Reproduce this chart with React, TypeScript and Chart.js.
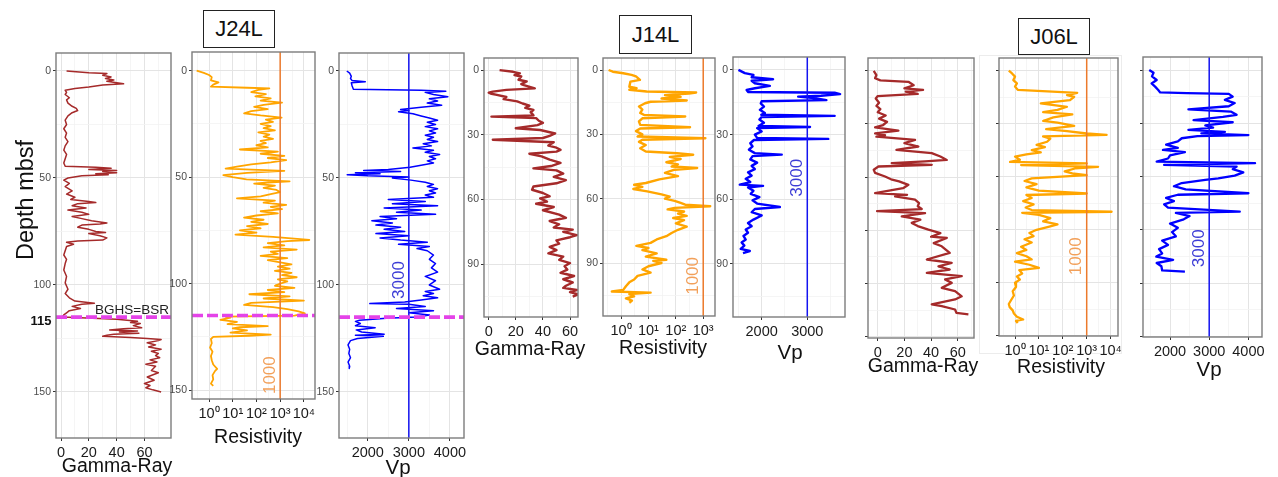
import React, { useEffect, useRef } from "react";
import { Chart, registerables } from "chart.js";
Chart.register(...registerables);

type Pair = [number, number]; // [depth mbsf, value]

// ---------------- J24L ----------------
const J24L_GR: Pair[] = [
  [0,4],[0.8,20],[1.2,33],[2,30],[2.8,36],[3.5,32],[4.2,38],[4.8,33],[5.5,40],[6,45],[6.5,30],[7.5,20],[8.2,10],[9,3],
  [10,4],[11,3],[12.5,6],[13.5,4],[15,5],[16.5,8],[17.5,11],[18.5,12],[19.5,8],[21,5],[23,3],[25,4],[27,2],[29,4],
  [31,3],[33,5],[35,3],[37,2],[39,4],[41,3],[43,2],[44.5,3],[45,25],[45.5,36],[46,20],[46.5,40],[47,30],[47.5,40],
  [48,25],[48.5,34],[49,15],[50,5],[51,2],[52.5,6],[54,3],[56,8],[57.5,4],[59,10],[60,7],[61,20],[61.5,25],[62,12],
  [63,8],[64,18],[65,5],[66,15],[67,20],[68,8],[69,15],[70,22],[71,33],[71.5,28],[72,15],[73,12],[74,20],[75,25],
  [75.5,32],[76,20],[77,28],[78,33],[79,30],[79.5,12],[80,4],[81,9],[82,4],[84,3],[86,2],[88,4],[90,3],[93,2],[96,4],
  [99,3],[102,5],[104,3],[106,6],[107.5,10],[108.5,24],[109,15],[110,8],[111,14],[112,6],[113,4],[114,2],[115,1],
  [116,40],[117,55],[117.5,50],[118,57],[119,52],[120,58],[120.5,45],[121,35],[121.5,55],[122,42],[122.5,56],[123,38],
  [123.5,33],[124,30],[124.5,50],[125,62],[125.5,72],[126,70],[127,62],[128,68],[129,63],[130,72],[131,65],[132,70],
  [133,68],[134,71],[135,64],[136,69],[137,61],[138,68],[140,65],[141,70],[143,62],[144.5,67],[146,60],[147,64],
  [148,61],[149,66],[150,72]
];
const J24L_RES: Pair[] = [
  [0,0.3],[1,0.6],[2,1.0],[3,1.3],[4.5,1.2],[5.5,2.5],[6.5,1.5],[7.5,1.2],[8,40],[8.3,350],[9,120],[10,60],[11,250],
  [12,90],[13,400],[14,150],[15,1200],[16,200],[17,80],[18,300],[19,60],[20,30],[21,150],[22,1150],[23,250],[24,500],
  [25,150],[26,400],[27,200],[28,600],[29,120],[30,350],[31,200],[32,500],[33,150],[34,250],[35,100],[36,300],[37,20],
  [38,800],[39,150],[40,1500],[41,300],[42,1800],[43,400],[44,60],[45,15],[46,5],[47,1500],[48,40],[49,4],[50,10],
  [51,38],[52,2500],[52.5,300],[53,80],[54,600],[55,200],[56,700],[57,1000],[58,400],[59,150],[60,15],[61,600],
  [62,200],[63,1800],[64,400],[65,1200],[66,150],[67,800],[68,100],[69,30],[70,200],[71,60],[72,300],[73,40],[74,150],
  [75,20],[76,100],[77,13],[78,500],[79.5,17000],[80,2000],[81,300],[82,1500],[83,200],[84,5000],[85,400],[86,800],
  [87,150],[88,2000],[89,300],[90,1000],[91,3000],[92,800],[93,2500],[94,600],[95,3000],[96,1200],[97,5000],[98,800],
  [99,2000],[100,1000],[101,600],[102,4000],[103,300],[104,1500],[105,50],[106,2500],[107,200],[108,10000],[109,60],
  [110,30],[111,500],[112,2000],[113,6000],[114,11000],[115,4000],[115.5,5],[116,8],[117,3],[118,15],[119,6],[120,300],
  [120.5,20],[121,10],[122,40],[123,8],[124,400],[124.5,50],[125,1.5],[126,1.2],[128,1.3],[130,1.1],[132,1.4],[134,1.2],
  [136,1.3],[138,1.5],[140,2.2],[141,1.8],[143,1.4],[145,1.5],[147,1.2],[148,1.5]
];
const J24L_VP: Pair[] = [
  [0,1490],[1,1560],[2.5,1600],[3.5,1580],[4.5,1620],[5,1940],[5.5,1600],[7,1620],[8.5,1650],[9,3300],[9.5,3900],
  [10,3400],[11,3600],[12,3950],[13,3500],[14,3700],[15,3450],[16,3800],[17,3300],[18,2800],[18.5,3000],[19,2750],
  [20,3100],[21,3300],[22,3500],[23,3700],[24,3450],[25,3650],[26,3400],[27,3700],[28,3500],[29,3650],[30,3400],
  [31,3600],[32,3450],[33,3700],[34,3350],[35,3550],[36,3100],[37,3600],[38,3400],[39,3750],[40,3500],[41,3650],
  [42,3450],[43,3600],[44,3300],[45,3030],[46,2500],[46.5,1900],[47,2800],[47.5,1700],[48,2300],[48.5,1500],[49,2000],
  [49.5,3000],[50,2600],[51,3050],[52,3400],[53,3600],[54,3450],[55,3700],[56,3500],[57,3650],[58,3400],[59,3600],
  [60,2500],[61,3400],[62,2600],[63,3700],[64,2400],[65,3300],[66,2700],[67,3650],[68,2300],[69,2700],[70,2100],
  [71,2600],[72,2200],[73,2800],[74,2400],[75,2900],[76,2200],[77,3000],[78,2300],[79,2800],[80,3450],[81,2750],
  [82,3500],[83,3200],[84,3450],[86,3600],[88,3500],[90,3650],[92,3550],[94,3700],[96,3400],[98,3650],[100,3500],
  [102,3750],[103,3400],[104,3600],[105,3350],[106,3700],[107,3300],[108,2900],[108.7,2050],[109,3000],[110,3400],
  [111,2700],[112,3600],[113,3000],[114,3500],[115,3200],[115.5,2450],[116.5,1800],[117,1700],[118,1820],[119,1700],
  [120,2180],[121,1720],[122,1850],[123,2400],[123.5,1700],[124,2380],[125,1750],[126,1580],[128,1520],[130,1560],
  [132,1540],[134,1580],[136,1520],[138,1560],[139,1550]
];

// ---------------- J14L ----------------
const J14L_GR: Pair[] = [
  [0,8],[0.8,18],[1.5,23],[2.3,19],[3,24],[4.5,22],[5.3,28],[6.5,24],[7,26],[8.5,34],[9.2,13],[10,3],[10.5,0],[11,2],
  [11.5,6],[12.5,13],[13.5,11],[14.5,21],[15.5,25],[16.5,30],[17.5,27],[18.5,33],[19.5,31],[21,33],[21.6,2],[22.3,35],
  [23.5,37],[24.5,40],[25.5,36],[27,20],[27.8,38],[29.4,49],[30.5,45],[31.5,40],[32.3,3],[33,30],[33.5,48],[35,44],
  [36,50],[37,53],[37.8,50],[38.8,30],[40,39],[41.5,45],[43,53],[44.5,46],[45.6,33],[46.5,50],[48,55],[49.5,48],
  [51,57],[52.5,50],[54,33],[55.5,32],[57,40],[58.5,45],[59.5,38],[61,43],[62,35],[63.5,48],[65,40],[67,52],[68.5,57],
  [70,45],[71.5,52],[73,48],[74,62],[75,55],[76.5,65],[77.5,60],[79,50],[80.5,52],[82,45],[83.5,50],[85,44],[86.5,55],
  [88,52],[89.5,60],[91,56],[92.5,58],[94,53],[95.5,63],[97,55],[98.5,62],[100,57],[101,55],[102,65],[103,60],
  [104,66],[105,62]
];
const J14L_RES: Pair[] = [
  [0,0.35],[0.8,0.5],[1.5,1.2],[2.3,2.4],[3,3.5],[4.6,4.9],[5.4,2.2],[7.8,2.0],[8.5,3.7],[9.2,2.0],[10,8.6],[10.5,550],
  [11,300],[11.7,40],[12.5,150],[13.3,30],[14.2,250],[14.8,12],[15.5,7.5],[17,4.5],[18.5,6],[20,5],[21,7],[21.7,220],
  [22.5,6],[24,4.5],[25.6,5],[26.7,330],[27.3,5],[28.5,3.5],[30,6],[31,4],[31.8,1200],[32.5,6],[33.5,4.5],[35,8],
  [36.5,5],[38,8],[38.8,110],[39.5,430],[40.5,60],[41.5,150],[43,45],[44,120],[45,70],[45.7,600],[46.5,90],[48,40],
  [49.5,120],[51,25],[52.7,8],[53.5,3],[54.5,6],[55.5,2.8],[56.6,9],[58,30],[59,60],[60,40],[61,90],[62,150],
  [62.8,220],[63.5,1800],[64.3,90],[65,50],[66,200],[67,120],[68,250],[69,80],[70,200],[71.5,100],[73,250],[74.5,120],
  [76,70],[77.5,45],[79,20],[80.6,12],[82,3.6],[83,10],[84,6],[85.5,20],[87,8],[88.5,45],[89,15],[90,30],[91.5,10],
  [93,6],[94.5,12],[96,4],[97.7,3],[99,2],[100.8,1.5],[102.5,1.2],[103.3,0.46],[103.8,12],[104.5,2],[105.5,3],
  [106.5,1.5],[107.5,2.5],[108.5,2]
];
const J14L_VP: Pair[] = [
  [0,1490],[1.5,1630],[2.3,1820],[3.4,1780],[4.3,2250],[5,1780],[6.2,1850],[7.4,2180],[8.5,1850],[9.3,1670],
  [10.2,1700],[10.6,3600],[11.2,3720],[12,3300],[12.4,2800],[13.2,3200],[14,3420],[14.5,2000],[15.5,1980],[17,2050],
  [18.5,1960],[20,2070],[20.8,1990],[21.3,3600],[21.8,2000],[23,1950],[24.5,2050],[26,1930],[26.5,3060],[27,1900],
  [28.5,2000],[30,1850],[31.5,1900],[32,3460],[32.5,1830],[34,1750],[35.5,1800],[37,1720],[38.6,1850],[39.3,2440],
  [40,1800],[41.5,1750],[43,1900],[44.5,1780],[46,1850],[47.5,1700],[49,1780],[50.5,1650],[52,1750],[53.2,1520],
  [53.8,2030],[54.5,1700],[56,1820],[57.5,1760],[59,1950],[60.5,1800],[62,1900],[63.6,2400],[64.5,1850],[66,1780],
  [67.5,2000],[69.4,1820],[71,1700],[72.5,1780],[74,1650],[75.5,1700],[77,1600],[78.7,1650],[80,1560],[81.5,1620],
  [83,1540],[84,1740],[85,1590]
];

// ---------------- J06L ----------------
const J06L_GR: Pair[] = [
  [0,-3],[2,-1],[3.5,-2],[4.5,2],[5.2,23],[6.8,27],[8.3,20],[9,34],[9.8,21],[10.9,30],[11.9,0],[13,-1.5],[15,1],
  [16.5,-1],[18,2],[19.5,0],[21,6],[22.5,1],[24,7],[25.5,4],[26.6,-2],[28.1,15.5],[29.4,-2],[30.2,5.5],[31,-1],
  [32.5,28],[34,20],[35.6,30.5],[37.2,14],[38.7,40.5],[40.3,47],[41.9,51.8],[42.6,35.5],[43.4,10.5],[44.2,40.5],
  [45,0.5],[46.5,-3],[48,-2],[49.7,5.5],[51,10],[52,16],[53.6,23],[55.2,19],[57.5,-2],[58.3,22],[59,13],[60.6,28],
  [62.2,31],[63.7,30],[65,33],[66,-0.5],[66.9,35.5],[68.4,18],[70,32],[71.5,25.5],[73,30],[74.7,38],[76.3,47],[78,40],
  [78.6,51.8],[81,42],[82.5,48],[85.6,54],[88.7,36.8],[90.3,55.5],[91.9,45.5],[93.4,54],[95,36.8],[96.5,63],
  [98.1,50.5],[99.7,55.5],[102,48],[103.6,58],[106,63],[107.5,58],[109.8,40.5],[110.6,48],[112.2,58],[113.8,59],
  [114.5,68]
];
const J06L_RES: Pair[] = [
  [0,0.55],[1.3,0.75],[2.8,1.0],[4.4,0.85],[6,1.2],[7.5,1.0],[9,1.3],[10.4,400],[11.5,150],[12.3,300],[13.9,200],
  [15.4,12],[17,150],[18.5,60],[19.5,15],[20.6,250],[22,40],[23.7,15],[24.5,60],[26,300],[27.5,20],[28.5,150],
  [29.6,1000],[30.3,6800],[31,15],[32,30],[33.5,22],[35,8],[36,18],[37.4,5],[38.5,12],[39.5,3],[40.5,1.0],[42,1.6],
  [43,0.62],[43.7,1000],[44.5,1.8],[45.3,3000],[46,350],[47.5,120],[48.4,250],[49.2,1000],[50.8,5],[52,2.5],[53.5,8],
  [55,3],[56.5,10],[57.9,1000],[58.6,3],[60,5],[61.5,2.2],[63,6],[64.5,2.8],[65.7,5],[66.5,11000],[67,2],[68,10],
  [69.5,30],[71,15],[72.5,60],[73.6,25],[75,8],[76.5,4],[78,6],[79.5,2.5],[81,5],[83,1.8],[84.5,3],[86,1.2],[87.5,3],
  [89,5],[90,1.0],[91.5,4],[93,10],[94,1.5],[95.6,2],[97,1.2],[98.5,1.6],[100,1.0],[102,1.1],[104,0.8],[106,0.9],
  [108,0.7],[110,0.55],[111.5,0.6],[113,0.8],[114.5,0.9],[116,1.2],[117.3,2.2],[118,1.1],[119,1.3]
];
const J06L_VP: Pair[] = [
  [0,1470],[1.3,1580],[3,1540],[4.7,1660],[6.3,1530],[7.8,1620],[9.4,1700],[10.5,1750],[10.8,2430],[11.2,3500],
  [12.5,3600],[14,3400],[15.5,3650],[17,3500],[18.5,2470],[19.5,3550],[21,3700],[22,3350],[23.5,2600],[24.5,3600],
  [26,2900],[27,3100],[28.1,2470],[29,3400],[29.7,2800],[30.5,4000],[31,2700],[32,2300],[33.5,2200],[35,1900],
  [36.5,2200],[37.5,1820],[38.5,2380],[40,2000],[41.5,1950],[43,1660],[43.7,4170],[44.5,1850],[45.3,3700],
  [46.5,3600],[48,3870],[49.5,3650],[50.8,3230],[51.5,2900],[53,2300],[54.5,2100],[56,2400],[57.8,4000],[58.5,2200],
  [60,1900],[61.5,2100],[63,1850],[64.5,1950],[66.4,3780],[67,2150],[68.5,2500],[70,2350],[72,2000],[74,2200],
  [76,2050],[78,2150],[80,1800],[82,1950],[84,1720],[86,1800],[87.5,1650],[89,2080],[90.5,1660],[92,1780],[94,1800],
  [94.5,2380]
];

const BSR_DEPTH = 115;
const RES_CUTOFF = 1000;
const VP_CUTOFF = 3000;
const SITES = ["J24L", "J14L", "J06L"];
const SUP = ["⁰", "¹", "²", "³", "⁴"];

// ---------------- layout / styling ----------------
const FONT = '"Liberation Sans", Arial, Helvetica, sans-serif';
const GR_COLOR = "#A52A2A";
const RES_COLOR = "#FFA500";
const VP_COLOR = "#0000FF";
const Y_W = 30, X_H = 26, PAD_T = 3, PAD_R = 16;

interface Panel {
  frame: [number, number, number, number];
  y: [number, number];
  yMajor: number;
  yMinor: number;
  yLabels: boolean;
  x: [number, number];
  log?: boolean;
  xMajor?: number;
  xMinor?: number;
  data: Pair[];
  color: string;
  lw: number;
  ref?: { value: number; color: string; text: string; textColor: string; depth: number };
  bsr?: boolean;
}

const p10 = (e: number) => Math.pow(10, e);
const resRef = (depth: number) => ({ value: RES_CUTOFF, color: "#EC7A2C", text: String(RES_CUTOFF), textColor: "#F2A05A", depth });
const vpRef = (depth: number) => ({ value: VP_CUTOFF, color: "#1414F0", text: String(VP_CUTOFF), textColor: "#3C3CD6", depth });

const PANELS: Panel[] = [
  { frame: [56, 53, 171, 438], y: [-8.4, 171.5], yMajor: 50, yMinor: 25, yLabels: true, x: [-3.6, 79.1], xMajor: 20, xMinor: 10, data: J24L_GR, color: GR_COLOR, lw: 1.5, bsr: true },
  { frame: [192, 52, 315, 399], y: [-8.8, 154.2], yMajor: 50, yMinor: 25, yLabels: true, x: [p10(-0.72), p10(4.47)], log: true, data: J24L_RES, color: RES_COLOR, lw: 1.8, bsr: true, ref: resRef(143) },
  { frame: [339, 53, 464, 438], y: [-8.4, 171.5], yMajor: 50, yMinor: 25, yLabels: true, x: [1300, 4343], xMajor: 1000, xMinor: 500, data: J24L_VP, color: VP_COLOR, lw: 1.5, bsr: true, ref: vpRef(97.7) },
  { frame: [484, 58, 578, 317], y: [-5.6, 114.5], yMajor: 30, yMinor: 15, yLabels: true, x: [-3.5, 65.9], xMajor: 20, xMinor: 10, data: J14L_GR, color: GR_COLOR, lw: 2.4 },
  { frame: [603, 58, 715, 316], y: [-5.6, 114.7], yMajor: 30, yMinor: 15, yLabels: true, x: [p10(-0.66), p10(3.43)], log: true, data: J14L_RES, color: RES_COLOR, lw: 2.4, ref: resRef(96) },
  { frame: [733, 57, 845, 317], y: [-6, 114.6], yMajor: 30, yMinor: 15, yLabels: true, x: [1371, 3827], xMajor: 1000, xMinor: 500, data: J14L_VP, color: VP_COLOR, lw: 2.4, ref: vpRef(50) },
  { frame: [868, 58, 974, 338], y: [-6, 125.6], yMajor: 25, yMinor: 12.5, yLabels: false, x: [-7.3, 72.2], xMajor: 20, xMinor: 10, data: J06L_GR, color: GR_COLOR, lw: 2.3 },
  { frame: [999, 58, 1118, 336], y: [-6, 125.1], yMajor: 25, yMinor: 12.5, yLabels: false, x: [p10(-0.67), p10(4.31)], log: true, data: J06L_RES, color: RES_COLOR, lw: 2.3, ref: resRef(87.5) },
  { frame: [1143, 57, 1262, 337], y: [-6.1, 125.2], yMajor: 25, yMinor: 12.5, yLabels: false, x: [1311, 4347], xMajor: 1000, xMinor: 500, data: J06L_VP, color: VP_COLOR, lw: 2.3, ref: vpRef(83.6) },
];

const AXIS_TITLES: { text: string; cx: number; cy: number; size: number }[] = [
  { text: "Gamma-Ray", cx: 117, cy: 466, size: 19.5 },
  { text: "Resistivity", cx: 258, cy: 437, size: 19.5 },
  { text: "Vp", cx: 398, cy: 467, size: 20.5 },
  { text: "Gamma-Ray", cx: 530, cy: 349, size: 19.5 },
  { text: "Resistivity", cx: 663, cy: 348, size: 19.5 },
  { text: "Vp", cx: 790, cy: 352, size: 20.5 },
  { text: "Gamma-Ray", cx: 923, cy: 366, size: 19.5 },
  { text: "Resistivity", cx: 1061, cy: 367, size: 19.5 },
  { text: "Vp", cx: 1209, cy: 369, size: 20.5 },
];
const TITLE_BOXES: { left: number; top: number; w: number; h: number }[] = [
  { left: 203, top: 10, w: 72, h: 38 },
  { left: 619, top: 15, w: 73, h: 39 },
  { left: 1018, top: 18, w: 72, h: 37 },
];

const near = (a: number, b: number) => Math.abs(a - b) < 1e-6;

function makeChart(canvas: HTMLCanvasElement, p: Panel) {
  const yTicks: number[] = [];
  for (let v = Math.ceil(p.y[0] / p.yMinor) * p.yMinor; v <= p.y[1] + 1e-9; v += p.yMinor) yTicks.push(v);
  const yMajor = (v: number) => near(v / p.yMajor, Math.round(v / p.yMajor));

  const xTicks: number[] = [];
  let xMajor: (v: number) => boolean;
  if (p.log) {
    const lo = Math.log10(p.x[0]), hi = Math.log10(p.x[1]);
    for (let e = Math.ceil(lo * 2) / 2; e <= hi + 1e-9; e += 0.5) xTicks.push(p10(e));
    xMajor = (v: number) => near(Math.log10(v), Math.round(Math.log10(v)));
  } else {
    const step = p.xMinor!, maj = p.xMajor!;
    for (let v = Math.ceil(p.x[0] / step) * step; v <= p.x[1] + 1e-9; v += step) xTicks.push(v);
    xMajor = (v: number) => near(v / maj, Math.round(v / maj));
  }

  const datasets: any[] = [];
  if (p.bsr) {
    datasets.push({
      data: [{ x: p.x[0], y: BSR_DEPTH }, { x: p.x[1], y: BSR_DEPTH }],
      borderColor: "#E443E8", borderWidth: 3.6, borderDash: [11, 4], pointRadius: 0, showLine: true,
    });
  }
  if (p.ref) {
    datasets.push({
      data: [{ x: p.ref.value, y: p.y[0] }, { x: p.ref.value, y: p.y[1] }],
      borderColor: p.ref.color, borderWidth: 1.5, pointRadius: 0, showLine: true,
    });
  }
  datasets.push({
    data: p.data.map(([d, v]) => ({ x: v, y: d })),
    borderColor: p.color, borderWidth: p.lw, pointRadius: 0, showLine: true, borderJoinStyle: "round", tension: 0,
  });

  const gridColor = (major: boolean) => (major ? "#E4E4E4" : "#F2F2F2");
  const zeroPad = (s: any) => { s.paddingLeft = 0; s.paddingRight = 0; s.paddingTop = 0; s.paddingBottom = 0; };

  const framePlugin = {
    id: "frameAndText",
    afterDatasetsDraw(chart: any) {
      const { ctx, chartArea: a } = chart;
      if (p.ref) {
        const px = chart.scales.x.getPixelForValue(p.ref.value) - 10;
        const py = chart.scales.y.getPixelForValue(p.ref.depth);
        ctx.save();
        ctx.translate(px, py);
        ctx.rotate(-Math.PI / 2);
        ctx.font = `17px ${FONT}`;
        ctx.fillStyle = p.ref.textColor;
        ctx.textAlign = "center";
        ctx.textBaseline = "middle";
        ctx.fillText(p.ref.text, 0, 0);
        ctx.restore();
      }
      ctx.save();
      ctx.strokeStyle = "#7C7C7C";
      ctx.lineWidth = 1.4;
      ctx.strokeRect(a.left, a.top, a.right - a.left, a.bottom - a.top);
      ctx.restore();
    },
  };

  return new Chart(canvas, {
    type: "scatter",
    data: { datasets },
    options: {
      animation: false,
      responsive: false,
      events: [],
      layout: { padding: { left: 0, top: PAD_T, right: PAD_R, bottom: 0 } },
      plugins: { legend: { display: false }, tooltip: { enabled: false } },
      scales: {
        x: {
          type: p.log ? "logarithmic" : "linear",
          position: "bottom",
          min: p.x[0],
          max: p.x[1],
          bounds: "data",
          afterBuildTicks: (s: any) => { s.ticks = xTicks.map((v) => ({ value: v })); },
          afterFit: (s: any) => { s.height = X_H; zeroPad(s); },
          border: { display: false },
          grid: {
            color: (c: any) => gridColor(c.tick ? xMajor(c.tick.value) : true),
            lineWidth: (c: any) => (c.tick && xMajor(c.tick.value) ? 1 : 0.8),
            tickColor: (c: any) => (c.tick && xMajor(c.tick.value) ? "#333333" : "rgba(0,0,0,0)"),
            tickLength: 3,
            drawTicks: true,
          },
          ticks: {
            autoSkip: false,
            maxRotation: 0,
            minRotation: 0,
            padding: 3,
            color: "#1A1A1A",
            font: { size: 14.5, family: FONT },
            callback: (v: any) => {
              const n = Number(v);
              if (!xMajor(n)) return "";
              if (p.log) return "10" + SUP[Math.round(Math.log10(n))];
              return String(Math.round(n));
            },
          },
        },
        y: {
          type: "linear",
          reverse: true,
          min: p.y[0],
          max: p.y[1],
          bounds: "data",
          afterBuildTicks: (s: any) => { s.ticks = yTicks.map((v) => ({ value: v })); },
          afterFit: (s: any) => { s.width = Y_W; zeroPad(s); },
          border: { display: false },
          grid: {
            color: (c: any) => gridColor(c.tick ? yMajor(c.tick.value) : true),
            lineWidth: (c: any) => (c.tick && yMajor(c.tick.value) ? 1 : 0.8),
            tickColor: (c: any) => (c.tick && yMajor(c.tick.value) ? "#333333" : "rgba(0,0,0,0)"),
            tickLength: 3,
            drawTicks: true,
          },
          ticks: {
            autoSkip: false,
            padding: 2,
            color: "#4D4D4D",
            font: { size: 10.5, family: FONT },
            callback: (v: any) => {
              const n = Number(v);
              if (!p.yLabels || !yMajor(n)) return "";
              return String(Math.round(n));
            },
          },
        },
      },
    } as any,
    plugins: [framePlugin],
  });
}

function PanelChart({ p }: { p: Panel }) {
  const ref = useRef<HTMLCanvasElement>(null);
  const [L, T, R, B] = p.frame;
  const W = R - L + Y_W + PAD_R;
  const H = B - T + PAD_T + X_H;
  useEffect(() => {
    const c = makeChart(ref.current!, p);
    return () => c.destroy();
  }, []);
  return (
    <canvas
      ref={ref}
      width={W}
      height={H}
      style={{ position: "absolute", left: L - Y_W, top: T - PAD_T, width: W, height: H }}
    />
  );
}

export default function App() {
  const txt: React.CSSProperties = { position: "absolute", whiteSpace: "nowrap", fontFamily: FONT, lineHeight: 1 };
  return (
    <div style={{ position: "fixed", left: 0, top: 0, width: 1278, height: 477, background: "#fff", overflow: "hidden" }}>
      <div style={{ position: "absolute", left: 979, top: 55, width: 143, height: 299, border: "1px solid #ECECEC", boxSizing: "border-box" }} />
      {PANELS.map((p, i) => <PanelChart key={i} p={p} />)}
      {TITLE_BOXES.map((b, i) => (
        <div key={i} style={{ ...txt, left: b.left, top: b.top, width: b.w, height: b.h, border: "1px solid #222", boxSizing: "border-box", display: "flex", alignItems: "center", justifyContent: "center", fontSize: 22, color: "#111", background: "#fff" }}>
          {SITES[i]}
        </div>
      ))}
      {AXIS_TITLES.map((t, i) => (
        <div key={i} style={{ ...txt, left: t.cx, top: t.cy, transform: "translate(-50%,-50%)", fontSize: t.size, color: "#111" }}>{t.text}</div>
      ))}
      <div style={{ ...txt, left: 26, top: 200, transform: "translate(-50%,-50%) rotate(-90deg)", fontSize: 23.5, color: "#111" }}>Depth mbsf</div>
      <div style={{ ...txt, left: 41, top: 320, transform: "translate(-50%,-50%)", fontSize: 13, fontWeight: "bold", color: "#111" }}>{BSR_DEPTH}</div>
      <div style={{ ...txt, left: 132, top: 310, transform: "translate(-50%,-50%)", fontSize: 13.5, color: "#222" }}>BGHS=BSR</div>
    </div>
  );
}
